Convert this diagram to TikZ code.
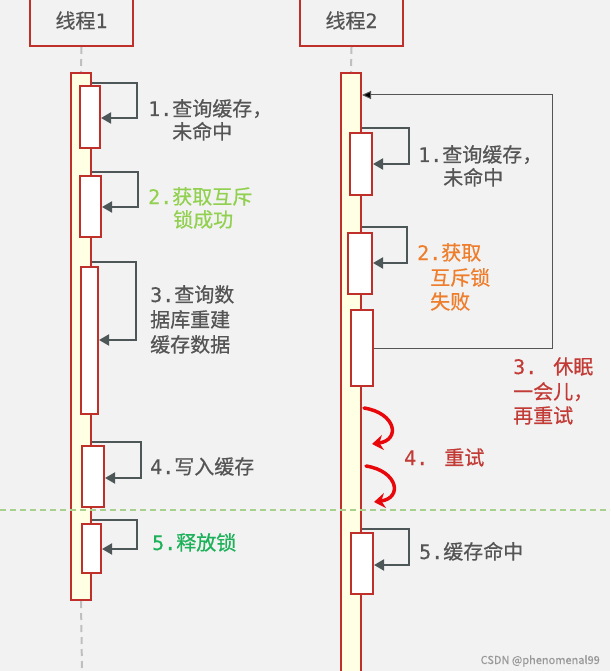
\documentclass[tikz,border=0pt]{standalone}
\usepackage{fontspec}
\setmainfont{Noto Sans CJK SC}[FakeBold=0.5]
\newfontfamily\numf{DejaVu Sans Mono}[FakeBold=0.3]
\usetikzlibrary{arrows.meta}
\definecolor{bg}{HTML}{F2F2F2}
\definecolor{bred}{HTML}{C0302B}
\definecolor{barfill}{HTML}{FFFFE4}
\definecolor{txtgray}{HTML}{555555}
\definecolor{arrgray}{HTML}{4D5757}
\definecolor{lgreen}{HTML}{92D050}
\definecolor{dgreen}{HTML}{1DB15A}
\definecolor{orng}{HTML}{EE7D2C}
\definecolor{rtxt}{HTML}{C23B36}
\definecolor{swooshc}{HTML}{E8070A}
\definecolor{lifeg}{HTML}{BFBFBF}
\definecolor{sepg}{HTML}{A9D18E}
\begin{document}
\begin{tikzpicture}[x=1pt,y=-1pt,
  thread/.style={draw=bred,line width=2pt,fill=bg,minimum width=103pt,minimum height=51pt,inner sep=0pt,font=\fontsize{20}{24}\selectfont,text=txtgray},
  bar/.style={draw=bred,line width=2pt,fill=barfill,inner sep=0pt,minimum width=20pt},
  act/.style={draw=bred,line width=2pt,fill=white,inner sep=0pt},
  msg/.style={draw=arrgray,line width=2pt,-{Triangle[length=10pt,width=11pt]}},
  loopa/.style={draw=txtgray,line width=1pt,-{Triangle[length=9pt,width=8pt,fill=black]}},
  life/.style={draw=lifeg,line width=2pt,dash pattern=on 7pt off 5pt},
  sepline/.style={draw=sepg,line width=1.2pt,dash pattern=on 6pt off 4pt},
  swoosh/.style={draw=swooshc,line width=3.5pt,line cap=round,-{Stealth[length=11pt,width=15pt]}},
  lbl/.style={anchor=base west,inner sep=0pt,font=\fontsize{20}{24}\selectfont,text=txtgray}]
\useasboundingbox (0,0) rectangle (610,671);
\fill[bg] (0,0) rectangle (610,671);

% threads
\node[thread] (t1) at (81.5,20.5) {线程{\numf 1}};
\node[thread] (t2) at (351.5,20.5) {线程{\numf 2}};

% lifeline bars
\node[bar,minimum height=527pt] (b1) at (81,336.5) {};
\node[bar,minimum height=607pt] (b2) at (351,376.5) {};
\coordinate (bot1) at (82,671);
\draw[life] (t1.south) -- (b1.north);
\draw[life] (b1.south) -- (bot1);
\draw[life] (t2.south) -- (b2.north);

% separator
\coordinate (sepL) at (0,510);
\coordinate (sepR) at (610,510);
\draw[sepline] (sepL) -- (sepR);

% activation boxes left
\node[act,minimum width=20pt,minimum height=62pt] (a1) at (90,117) {};
\node[act,minimum width=21pt,minimum height=61pt] (a2) at (90.5,206.5) {};
\node[act,minimum width=17pt,minimum height=147pt] (a3) at (89.5,340.5) {};
\node[act,minimum width=22pt,minimum height=61pt] (a4) at (93,476.5) {};
\node[act,minimum width=19pt,minimum height=49pt] (a5) at (91.5,548.5) {};

% activation boxes right
\node[act,minimum width=22pt,minimum height=62pt] (c1) at (361,164) {};
\node[act,minimum width=24pt,minimum height=61pt] (c2) at (360,263.5) {};
\node[act,minimum width=22pt,minimum height=76pt] (c3) at (362,348) {};
\node[act,minimum width=22pt,minimum height=61pt] (c5) at (362,563.5) {};

% self messages left
\draw[msg] (b1.east |- 0,83) -| (137,118) -- (a1.east |- 0,118);
\draw[msg] (b1.east |- 0,172) -| (138,207) -- (a2.east |- 0,207);
\draw[msg] (b1.east |- 0,262) -| (136,340) -- (a3.east |- 0,340);
\draw[msg] (b1.east |- 0,442) -| (141,478) -- (a4.east |- 0,478);
\draw[msg] (b1.east |- 0,520) -| (137,549) -- (a5.east |- 0,549);

% self messages right
\draw[msg] (b2.east |- 0,128) -| (409,164) -- (c1.east |- 0,164);
\draw[msg] (b2.east |- 0,227) -| (407,263) -- (c2.east |- 0,263);
\draw[msg] (b2.east |- 0,529) -| (409,565) -- (c5.east |- 0,565);

% retry loop
\draw[loopa] (c3.east) -| (552,95) -- (b2.east |- 0,95);

% red retry swooshes
\coordinate (r1s) at (364,408);
\coordinate (r1e) at (372,444);
\coordinate (r2s) at (366,466);
\coordinate (r2e) at (374,502);
\draw[swoosh] (r1s) .. controls (396,413) and (401,440) .. (r1e);
\draw[swoosh] (r2s) .. controls (398,471) and (403,498) .. (r2e);

% labels left
\node[lbl] (l1a) at (148,116) {{\numf 1.}查询缓存，};
\node[lbl] (l1b) at (172,139) {未命中};
\node[lbl,text=lgreen] (l2a) at (148,204) {{\numf 2.}获取互斥};
\node[lbl,text=lgreen] (l2b) at (173,227) {锁成功};
\node[lbl] (l3a) at (150,302) {{\numf 3.}查询数};
\node[lbl] (l3b) at (150,327) {据库重建};
\node[lbl] (l3c) at (150,352) {缓存数据};
\node[lbl] (l4) at (150,474) {{\numf 4.}写入缓存};
\node[lbl,text=dgreen] (l5) at (152,550) {{\numf 5.}释放锁};

% labels right
\node[lbl] (r1a) at (418,162) {{\numf 1.}查询缓存，};
\node[lbl] (r1b) at (443,185) {未命中};
\node[lbl,text=orng] (r2a) at (417,260) {{\numf 2.}获取};
\node[lbl,text=orng] (r2b) at (430,285) {互斥锁};
\node[lbl,text=orng] (r2c) at (430,309) {失败};
\node[lbl,text=rtxt] (r3a) at (513,374) {{\numf 3. }休眠};
\node[lbl,text=rtxt] (r3b) at (513,399) {一会儿，};
\node[lbl,text=rtxt] (r3c) at (513,423) {再重试};
\node[lbl,text=rtxt] (r4) at (404,465) {{\numf 4. }重试};
\node[lbl] (r5) at (419,559) {{\numf 5.}缓存命中};

% watermark
\node[anchor=base east,inner sep=0pt,font=\fontsize{11}{13}\selectfont,text=black!40] (wm) at (600,664) {CSDN @phenomenal99};
\end{tikzpicture}
\end{document}
